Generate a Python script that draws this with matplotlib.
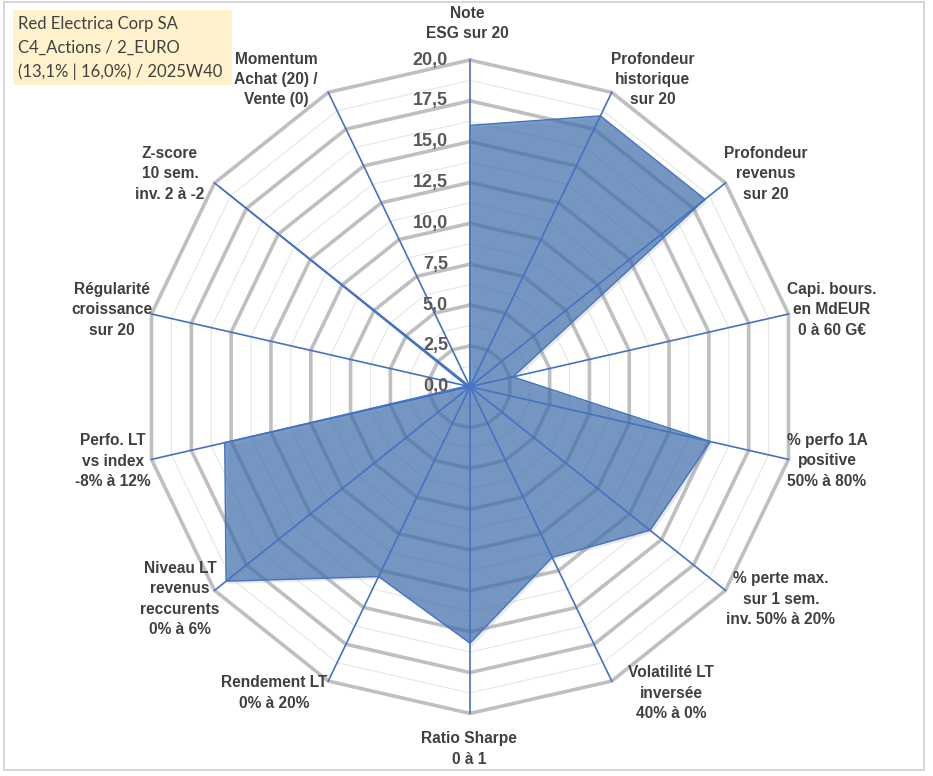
import numpy as np
import matplotlib
matplotlib.use("Agg")
import matplotlib.pyplot as plt
from matplotlib.patches import Rectangle, Polygon

# --- Data ----------------------------------------------------------------------

labels = [
    "Note\nESG sur 20",
    "Profondeur\nhistorique\nsur 20",
    "Profondeur\nrevenus\nsur 20",
    "Capi. bours.\nen MdEUR\n0 à 60 G€",
    "% perfo 1A\npositive\n50% à 80%",
    "% perte max.\nsur 1 sem.\ninv. 50% à 20%",
    "Volatilité LT\ninversée\n40% à 0%",
    "Ratio Sharpe\n0 à 1",
    "Rendement LT\n0% à 20%",
    "Niveau LT\nrevenus\nreccurents\n0% à 6%",
    "Perfo. LT\nvs index\n-8% à 12%",
    "Régularité\ncroissance\nsur 20",
    "Z-score\n10 sem.\ninv. 2 à -2",
    "Momentum\nAchat (20) /\nVente (0)",
]
values = [16.0, 18.4, 18.4, 2.7, 15.1, 14.1, 11.6, 15.7, 12.9, 19.1, 15.4, 0.2, 19.6, 0.0]
ticks = [0.0, 2.5, 5.0, 7.5, 10.0, 12.5, 15.0, 17.5, 20.0]
title_lines = ["Red Electrica Corp SA", "C4_Actions / 2_EURO", "(13,1% | 16,0%) / 2025W40"]

RMAX = 20.0
n = len(labels)
ang = np.arange(n) * 2 * np.pi / n        # clockwise from top


def xy(r, a):
    return np.asarray(r) * np.sin(a), np.asarray(r) * np.cos(a)


# --- Figure --------------------------------------------------------------------

W, H = 933, 776
fig = plt.figure(figsize=(W / 100, H / 100), dpi=100)
ax = fig.add_axes([0, 0, 1, 1])
cx, cy, px = 470, 386.7, 326.7 / RMAX       # centre (pixels) and pixels per unit
ax.set_xlim(-cx / px, (W - cx) / px)
ax.set_ylim(-(H - cy) / px, cy / px)
ax.axis("off")

# frame
fig.patches.append(Rectangle((4 / W, 1 - 770 / H), 920 / W, 768 / H, transform=fig.transFigure,
                             facecolor="none", edgecolor="#D0D0D0", linewidth=1.2))

ac = np.append(ang, ang[0])
# minor rings
for t in np.arange(1.25, RMAX, 2.5):
    x, y = xy(t, ac)
    ax.plot(x, y, color="#E6E6E6", linewidth=0.8, zorder=1)
# major rings
for t in ticks[1:]:
    x, y = xy(t, ac)
    ax.plot(x, y, color="#BFBFBF", linewidth=2.6, zorder=1)

# series (with a soft shadow)
vx, vy = xy(values, ang)
pts = np.column_stack([vx, vy])
ax.add_patch(Polygon(pts + [2.5 / px, -2.5 / px], closed=True, facecolor="#808080", alpha=0.18,
                     edgecolor="none", zorder=1.5))
ax.add_patch(Polygon(pts, closed=True, facecolor="#3E6FAE", alpha=0.68,
                     edgecolor="none", zorder=2))
ax.add_patch(Polygon(pts, closed=True, facecolor="none",
                     edgecolor="#4472C4", linewidth=1.0, zorder=3))

# spokes
for a in ang:
    x, y = xy([0, RMAX], a)
    ax.plot(x, y, color="#4472C4", linewidth=1.2, zorder=4)

# tick labels
for t in ticks:
    ax.text(-22 / px, t, f"{t:.1f}".replace(".", ","), ha="right", va="center",
            fontsize=13, fontweight="bold", color="#595959", family="Liberation Sans", zorder=5)

# category labels, centres in pixels as laid out by the original chart
label_pos = [(467, 23.5), (652.5, 79.5), (766, 174), (832, 310), (827, 461), (781, 599),
             (671, 693), (469, 749), (274, 693), (180, 599), (113, 461), (112, 310),
             (170, 174), (276, 79.5)]
for lab, (lx, ly) in zip(labels, label_pos):
    ax.text((lx - cx) / px, (cy - ly) / px, lab, ha="center", va="center", fontsize=11.2,
            fontweight="bold", color="#404040", family="Liberation Sans", linespacing=1.45,
            zorder=5)

# title box
fig.patches.append(Rectangle((13 / W, 1 - 85 / H), 219 / W, 75 / H, transform=fig.transFigure,
                             facecolor="#FFF2CC", edgecolor="none"))
for i, line in enumerate(title_lines):
    fig.text(18 / W, 1 - (24 + 24 * i) / H, line, ha="left", va="center", fontsize=12,
             color="#404040", family="Lato")

fig.savefig("out.png", dpi=100)
